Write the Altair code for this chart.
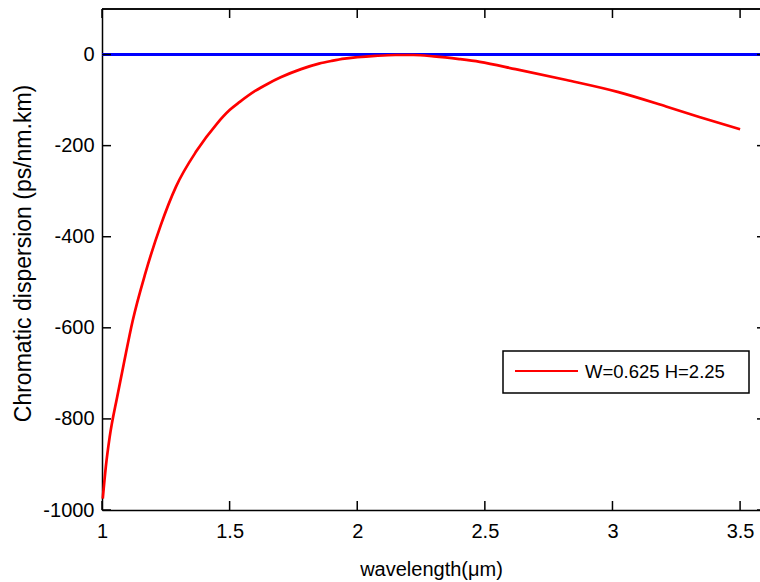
import altair as alt
import pandas as pd

# Data
wavelength = [1.003, 1.015, 1.03, 1.06, 1.085, 1.12, 1.17, 1.23, 1.29, 1.37, 1.45, 1.5,
              1.54, 1.6, 1.65, 1.7, 1.78, 1.85, 1.9, 1.95, 2.0, 2.07, 2.15, 2.22,
              2.3, 2.4, 2.48, 2.62, 2.82, 3.02, 3.21, 3.34, 3.5]
dispersion = [-975, -905, -840, -750, -680, -585, -480, -375, -290, -212, -152, -122,
              -104, -80, -64, -50, -32, -20, -14, -9, -6, -3, -1, -1,
              -4, -10, -16, -32, -56, -82, -114, -137, -164]
zero_x = [1.0, 3.6]
zero_y = [0, 0]
x_ticks = [1, 1.5, 2, 2.5, 3, 3.5]
y_ticks = [-1000, -800, -600, -400, -200, 0]
legend_label = "W=0.625 H=2.25"

W, H = 658, 501
FONT = "Liberation Sans"

curve = pd.DataFrame({"wl": wavelength, "D": dispersion})
zero = pd.DataFrame({"wl": zero_x, "D": zero_y})
xt = pd.DataFrame({"v": x_ticks})
yt = pd.DataFrame({"v": y_ticks})

xscale = alt.Scale(domain=[1, 3.578], nice=False, zero=False)
yscale = alt.Scale(domain=[-1000, 100], nice=False, zero=False)

xaxis = alt.Axis(values=x_ticks, grid=False, tickSize=0, labelPadding=11,
                 labelExpr="datum.value + ''", labelFlush=False, labelOverlap=False,
                 labelFont=FONT, labelFontSize=20, labelColor="black",
                 domainColor="black", domainWidth=1.5,
                 title="wavelength(μm)", titleFont=FONT, titleFontSize=20,
                 titleFontWeight="normal", titleColor="black",
                 titleY=65, titleBaseline="alphabetic")
yaxis = alt.Axis(values=y_ticks, grid=False, tickSize=0, labelPadding=8,
                 labelExpr="datum.value + ''", labelFlush=False, labelOverlap=False,
                 labelFont=FONT, labelFontSize=20, labelColor="black",
                 domainColor="black", domainWidth=1.5,
                 title="Chromatic dispersion (ps/nm.km)", titleFont=FONT,
                 titleFontSize=23, titleFontWeight="normal", titleColor="black",
                 titleX=-79, titleY=244, titleAngle=270, titleAlign="center",
                 titleBaseline="middle")

base_zero = alt.Chart(zero).mark_line(color="#0000ff", strokeWidth=3, clip=True).encode(
    x=alt.X("wl:Q", scale=xscale, axis=xaxis),
    y=alt.Y("D:Q", scale=yscale, axis=yaxis),
)
red = alt.Chart(curve).mark_line(color="#ff0000", strokeWidth=2.7, interpolate="monotone").encode(
    x=alt.X("wl:Q", scale=xscale),
    y=alt.Y("D:Q", scale=yscale),
)

xt_bottom = alt.Chart(xt).mark_rule(color="black", strokeWidth=1.5).encode(
    x=alt.X("v:Q", scale=xscale), y=alt.value(H), y2=alt.value(H - 9))
xt_top = alt.Chart(xt).mark_rule(color="black", strokeWidth=1.5).encode(
    x=alt.X("v:Q", scale=xscale), y=alt.value(0), y2=alt.value(9))
yt_left = alt.Chart(yt).mark_rule(color="black", strokeWidth=1.5).encode(
    y=alt.Y("v:Q", scale=yscale), x=alt.value(0), x2=alt.value(9))
yt_right = alt.Chart(yt).mark_rule(color="black", strokeWidth=1.5).encode(
    y=alt.Y("v:Q", scale=yscale), x=alt.value(W - 3), x2=alt.value(W))
top_border = alt.Chart(zero).mark_rule(color="black", strokeWidth=1.5).encode(
    x=alt.value(0), x2=alt.value(W), y=alt.value(0))

leg = pd.DataFrame({"label": [legend_label]})
leg_box = alt.Chart(leg).mark_rect(fill="white", stroke="black", strokeWidth=1.5).encode(
    x=alt.value(401), x2=alt.value(647), y=alt.value(342), y2=alt.value(384))
leg_line = alt.Chart(leg).mark_rule(color="#ff0000", strokeWidth=2).encode(
    x=alt.value(413), x2=alt.value(476), y=alt.value(362))
leg_text = alt.Chart(leg).mark_text(align="left", baseline="middle", font=FONT,
                                    fontSize=18.5, color="black").encode(
    x=alt.value(483), y=alt.value(363), text="label:N")

chart = alt.layer(base_zero, red, xt_bottom, xt_top, yt_left, yt_right, top_border,
                  leg_box, leg_line, leg_text).properties(
    width=W, height=H,
    autosize=alt.AutoSizeParams(type="none"),
    padding={"left": 102, "top": 9, "right": 0, "bottom": 72},
    background="white",
).configure_view(stroke=None)

chart.save("out.html", embed_options={"renderer": "svg", "actions": False})
